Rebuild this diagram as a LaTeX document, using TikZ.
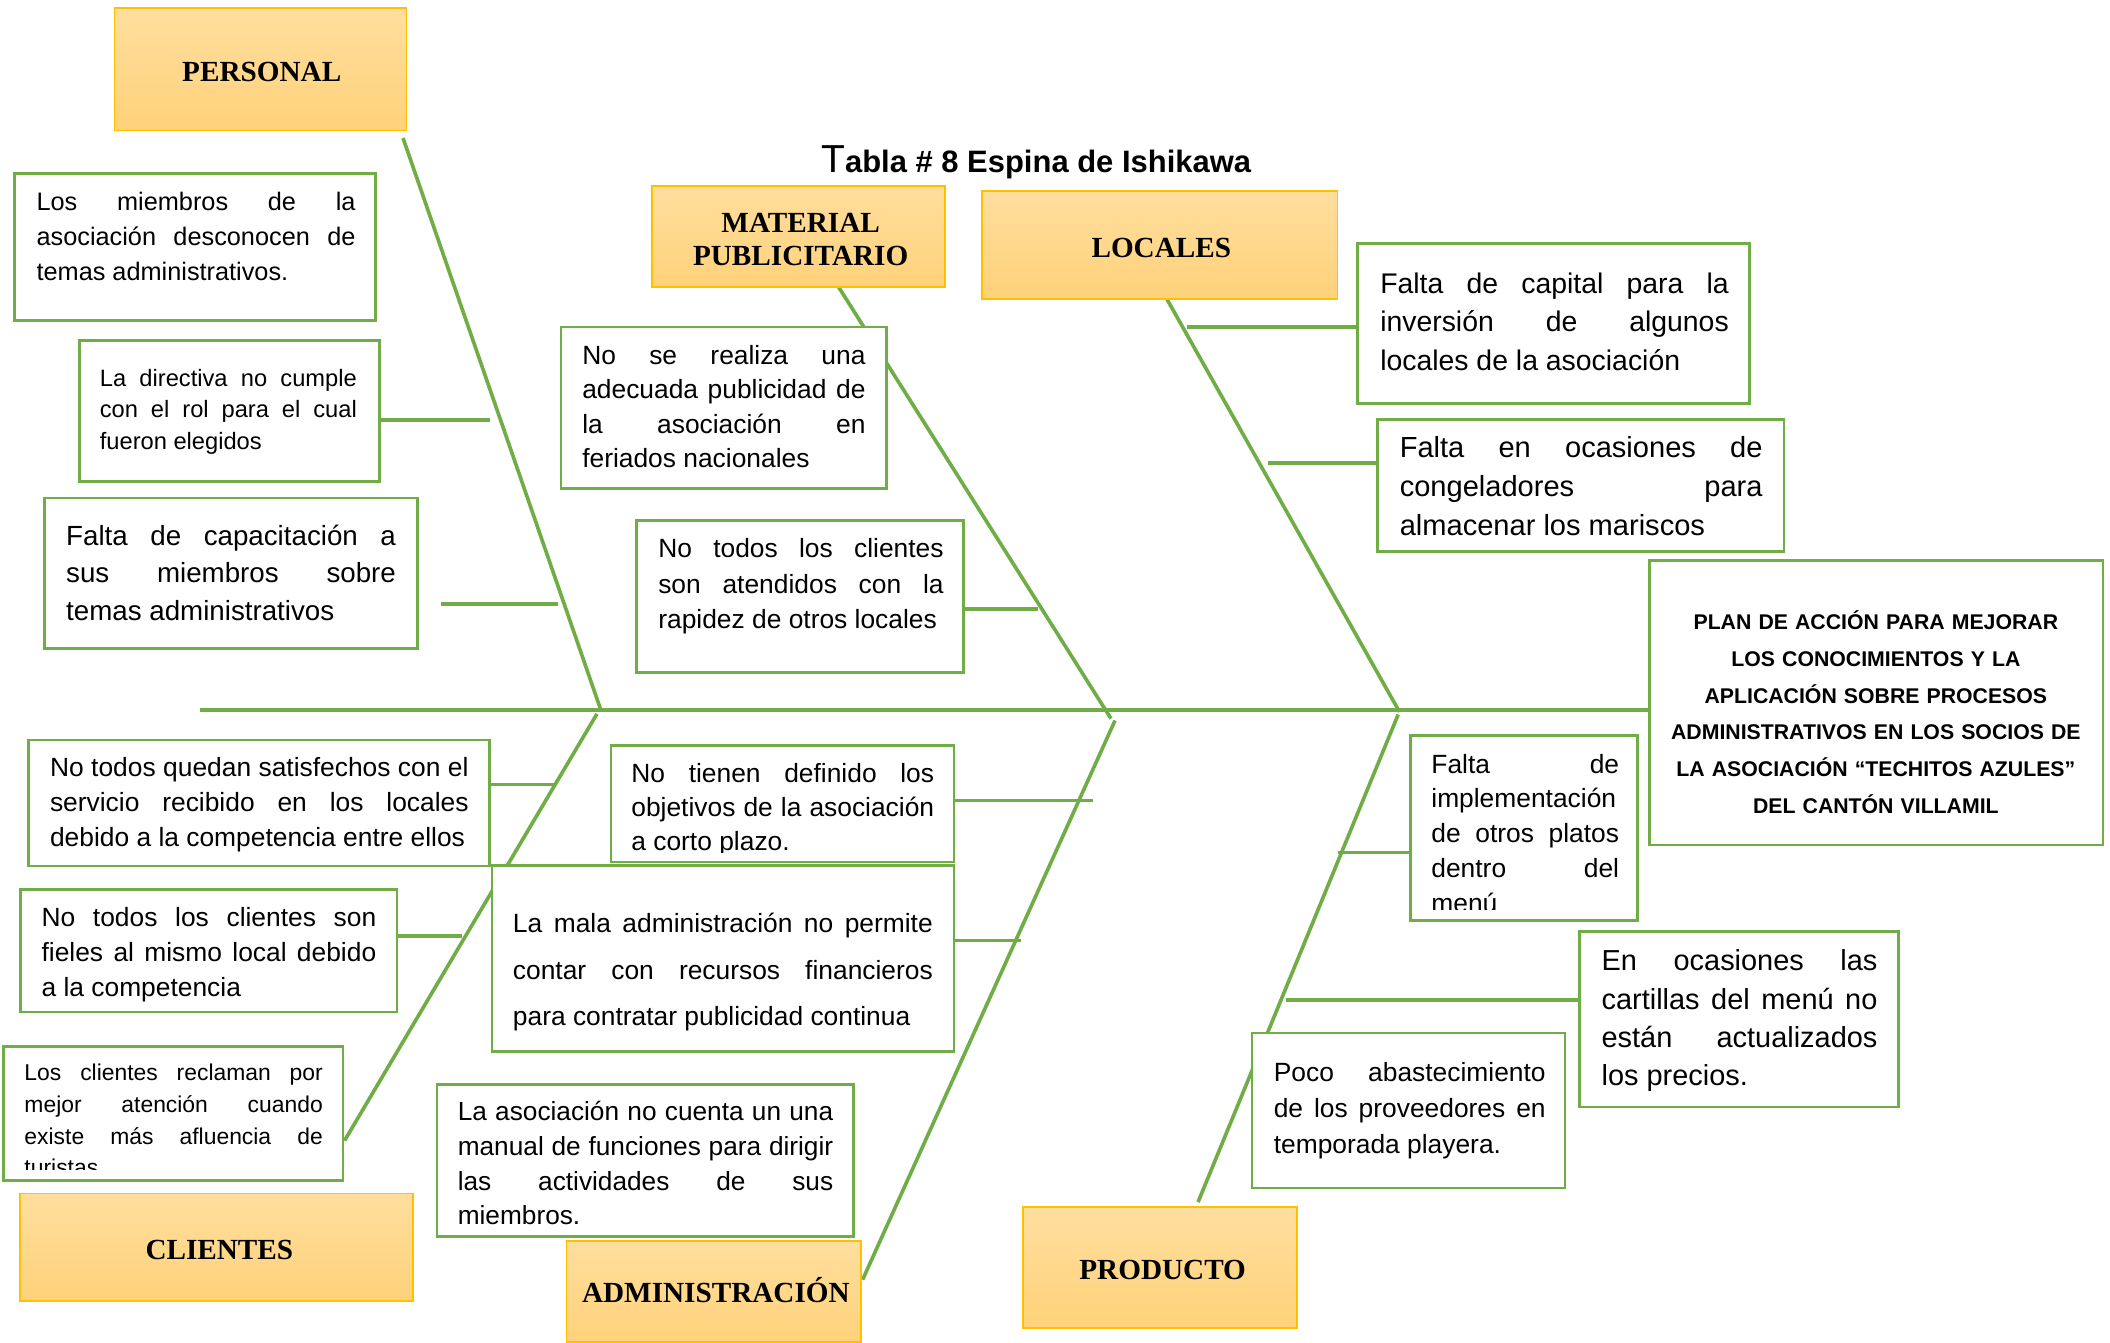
\documentclass[tikz,border=0pt]{standalone}
\usepackage{fontspec}
\setmainfont{Liberation Sans}
\newfontfamily\serifbold{Liberation Serif}
\usetikzlibrary{fit,calc}
\definecolor{grn}{RGB}{112,173,71}
\definecolor{goldline}{RGB}{255,192,0}
\definecolor{otop}{RGB}{255,222,158}
\definecolor{obot}{RGB}{255,210,122}
\tikzset{
  bone/.style={draw=grn,line width=2.7pt},
  conn/.style={draw=grn,line width=2.7pt},
  causebox/.style={draw=grn,line width=2pt,fill=white,rectangle,inner sep=0pt},
  catbox/.style={draw=goldline,line width=1.3pt,rectangle,top color=otop,bottom color=obot,inner sep=0pt},
  catlabel/.style={inner sep=0pt,align=center,font=\serifbold\bfseries\fontsize{21.7}{24}\selectfont},
  txt/.style={anchor=north west,inner sep=0pt,align=justify},
}
\newcommand\mytext[7]{\node[txt,text width=#6pt,font=\fontsize{#5}{#4}\selectfont] (#1) at (#2,{#3-0.7*#4}) {\hyphenpenalty=10000 \tolerance=10000 \strut #7};}
\begin{document}
\begin{tikzpicture}[x=1pt,y=-1pt]
\useasboundingbox (0,0) rectangle (1568,998);
% bone coordinates
\coordinate (tail) at (148.5,527.6);
\coordinate (pA) at (299.5,102.6); \coordinate (pB) at (446.5,527.6);
\coordinate (cA) at (443.6,530.5); \coordinate (cB) at (256,847.7);
\coordinate (mA) at (623,213);     \coordinate (mB) at (825.6,534);
\coordinate (aA) at (828.6,535.4); \coordinate (aB) at (641,951);
\coordinate (lA) at (867,222);     \coordinate (lB) at (1040,529);
\coordinate (rA) at (1039,531);    \coordinate (rB) at (890.3,893.3);
% bones
\draw[bone] (pA) -- (pB);
\draw[bone] (cA) -- (cB);
\draw[bone] (mA) -- (mB);
\draw[bone] (aA) -- (aB);
\draw[bone] (lA) -- (lB);
\draw[bone] (rA) -- (rB);
% cause boxes
\node[causebox,fit={(11,129) (279,238)}] (b1) {};
\node[causebox,fit={(59,253) (282,358)}] (b2) {};
\node[causebox,fit={(33,370) (310,482)}] (b3) {};
\node[causebox,fit={(417,243) (659,363)}] (b4) {};
\node[causebox,fit={(473,387) (716,500)}] (b5) {};
\node[causebox,fit={(1009,181) (1300,300)}] (b6) {};
\node[causebox,fit={(1023.6,311.8) (1325.7,410)}] (b7) {};
\node[causebox,fit={(21.3,550) (363.5,643.6)}] (b8) {};
\node[causebox,fit={(15.4,661) (295,752)}] (b9) {};
\node[causebox,fit={(2.6,777.5) (255,877)}] (b10) {};
\node[causebox,fit={(454,554) (709,640.5)}] (b11) {};
\node[causebox,fit={(365.6,643) (709,781.6)}] (b12) {};
\node[causebox,fit={(324.7,806) (634.3,919)}] (b13) {};
\node[causebox,fit={(1048,546.7) (1217,684)}] (b14) {};
\node[causebox,fit={(1174,692.3) (1411,822.7)}] (b15) {};
\node[causebox,fit={(930.4,767.6) (1163,882.8)}] (b16) {};
\node[causebox,fit={(1226,416.7) (1562.8,628)}] (plan) {};
% spine
\draw[bone] (tail) -- (tail -| plan.west);
% connectors
\coordinate (k2) at (364,312);   \draw[conn] (b2.east |- k2) -- (k2);
\coordinate (k3a) at (328,449);  \coordinate (k3b) at (415,449); \draw[conn] (k3a) -- (k3b);
\coordinate (k5) at (771,452.5); \draw[conn] (b5.east |- k5) -- (k5);
\coordinate (k6) at (882,243);   \draw[conn] (k6) -- (k6 -| b6.west);
\coordinate (k7) at (942,344);   \draw[conn] (k7) -- (k7 -| b7.west);
\coordinate (k8) at (413,583);   \draw[conn] (b8.east |- k8) -- (k8);
\coordinate (k9) at (343,695.6); \draw[conn] (b9.east |- k9) -- (k9);
\coordinate (k11) at (812,595);  \draw[conn] (b11.east |- k11) -- (k11);
\coordinate (k12) at (759,699);  \draw[conn] (b12.east |- k12) -- (k12);
\coordinate (k14) at (994,633.5); \draw[conn] (k14) -- (k14 -| b14.west);
\coordinate (k15) at (955.4,743.2); \draw[conn] (k15) -- (k15 -| b15.west);
% texts
\mytext{t1}{27}{156}{26}{18.8}{237}{Los miembros de la\linebreak asociación desconocen de\linebreak temas administrativos.}
\mytext{t2}{74}{287}{23.3}{17.6}{191}{La directiva no cumple\linebreak con el rol para el cual\linebreak fueron elegidos}
\mytext{t3}{49}{405}{28}{20.6}{245}{Falta de capacitación a\linebreak sus miembros sobre\linebreak temas administrativos}
\mytext{t4}{432.5}{270.5}{25.6}{19.6}{210.5}{No se realiza una\linebreak adecuada publicidad de\linebreak la asociación en\linebreak feriados nacionales}
\mytext{t5}{489}{414}{26.5}{19.6}{212}{No todos los clientes\linebreak son atendidos con la\linebreak rapidez de otros locales}
\mytext{t6}{1025.5}{218}{28.5}{21.1}{259}{Falta de capital para la\linebreak inversión de algunos\linebreak locales de la asociación}
\mytext{t7}{1040}{340}{28.75}{21.6}{269.6}{Falta en ocasiones de\linebreak congeladores para\linebreak almacenar los mariscos}
\mytext{t8}{37}{576.5}{26.25}{19.6}{311}{No todos quedan satisfechos con el\linebreak servicio recibido en los locales\linebreak debido a la competencia entre ellos}
\mytext{t9}{30.7}{688}{26}{19.6}{248.7}{No todos los clientes son\linebreak fieles al mismo local debido\linebreak a la competencia}
\begin{scope}
\clip (2.6,777.5) rectangle (255,869);
\mytext{t10}{18}{803}{23.5}{17}{221.7}{Los clientes reclaman por\linebreak mejor atención cuando\linebreak existe más afluencia de\linebreak turistas.}
\end{scope}
\begin{scope}
\clip (454,554) rectangle (709,633.5);
\mytext{t11}{469}{581}{25.5}{19.6}{225}{No tienen definido los\linebreak objetivos de la asociación\linebreak a corto plazo.}
\end{scope}
\mytext{t12}{381}{693}{34.5}{19.6}{312}{\parfillskip=0pt La mala administración no permite\linebreak contar con recursos financieros\linebreak para contratar publicidad continua}
\mytext{t13}{340}{832.4}{25.9}{19.5}{279}{La asociación no cuenta un una\linebreak manual de funciones para dirigir\linebreak las actividades de sus\linebreak miembros.}
\begin{scope}
\clip (1048,546.7) rectangle (1217,676);
\mytext{t14}{1063.5}{574.4}{25.8}{19.6}{139.5}{Falta de\linebreak implementación\linebreak de otros platos\linebreak dentro del\linebreak menú}
\end{scope}
\mytext{t15}{1190}{721.3}{28.4}{21.5}{205}{En ocasiones las\linebreak cartillas del menú no\linebreak están actualizados\linebreak los precios.}
\mytext{t16}{946.4}{803.5}{26.7}{19.6}{202}{Poco abastecimiento\linebreak de los proveedores en\linebreak temporada playera.}
\node[anchor=north,inner sep=0pt,text width=336pt,align=center,font=\bfseries\fontsize{15.8}{27.3}\selectfont] (plantxt) at (1394,{467.8-0.7*27.3}) {\strut PLAN DE ACCIÓN PARA MEJORAR\\ LOS CONOCIMIENTOS Y LA\\ APLICACIÓN SOBRE PROCESOS\\ ADMINISTRATIVOS EN LOS SOCIOS DE\\ LA ASOCIACIÓN “TECHITOS AZULES”\\ DEL CANTÓN VILLAMIL};
% category boxes
\node[catbox,fit={(85,6) (302,97)}] (personal) {};
\node[catbox,fit={(484.5,138) (702,213)}] (material) {};
\node[catbox,fit={(730,142) (994,222)}] (locales) {};
\node[catbox,fit={(15,887) (307,967)}] (clientes) {};
\node[catbox,fit={(421,922) (640,997)}] (admin) {};
\node[catbox,fit={(760,897) (964,987)}] (producto) {};
\node[catlabel] (personalL) at (194.5,53.5) {PERSONAL};
\node[catlabel] (materialL) at (595,178) {MATERIAL\\PUBLICITARIO};
\node[catlabel] (localesL) at (863,184) {LOCALES};
\node[catlabel] (clientesL) at (163,929) {CLIENTES};
\node[catlabel] (adminL) at (532,959) {ADMINISTRACIÓN};
\node[catlabel] (productoL) at (864,944) {PRODUCTO};
% title
\node[anchor=base,inner sep=0pt] (title) at (770,128.5) {{\fontsize{29}{29}\selectfont T}{\bfseries\fontsize{23}{23}\selectfont abla \# 8 Espina de Ishikawa}};
\end{tikzpicture}
\end{document}
